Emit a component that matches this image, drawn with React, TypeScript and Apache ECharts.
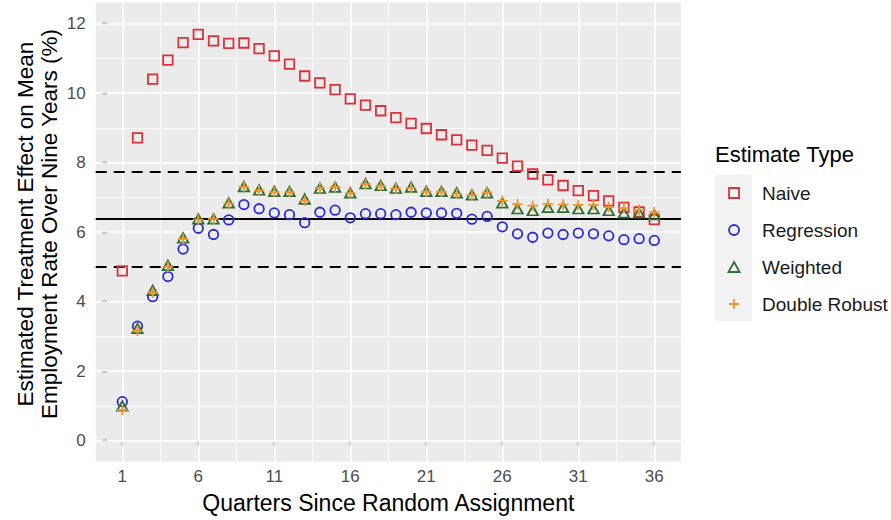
import React, { useEffect, useRef } from "react";
import * as echarts from "echarts";

const quarters = [1, 2, 3, 4, 5, 6, 7, 8, 9, 10, 11, 12, 13, 14, 15, 16, 17, 18, 19, 20, 21, 22, 23, 24, 25, 26, 27, 28, 29, 30, 31, 32, 33, 34, 35, 36];
const naive = [4.88, 8.71, 10.4, 10.95, 11.45, 11.69, 11.5, 11.43, 11.44, 11.28, 11.07, 10.83, 10.49, 10.29, 10.1, 9.83, 9.65, 9.49, 9.29, 9.13, 8.98, 8.8, 8.65, 8.5, 8.35, 8.13, 7.9, 7.67, 7.5, 7.34, 7.19, 7.05, 6.9, 6.71, 6.58, 6.36];
const regression = [1.12, 3.29, 4.14, 4.72, 5.51, 6.11, 5.93, 6.35, 6.79, 6.67, 6.55, 6.5, 6.27, 6.57, 6.63, 6.41, 6.53, 6.53, 6.5, 6.57, 6.55, 6.55, 6.54, 6.37, 6.45, 6.15, 5.95, 5.85, 5.97, 5.93, 5.97, 5.95, 5.89, 5.78, 5.81, 5.76];
const weighted = [1.0, 3.23, 4.32, 5.04, 5.83, 6.38, 6.38, 6.84, 7.31, 7.21, 7.17, 7.17, 6.95, 7.26, 7.29, 7.13, 7.39, 7.34, 7.26, 7.29, 7.17, 7.17, 7.13, 7.07, 7.13, 6.84, 6.67, 6.62, 6.71, 6.71, 6.67, 6.67, 6.62, 6.55, 6.55, 6.5];
const doubleRobust = [0.88, 3.16, 4.26, 5.0, 5.8, 6.36, 6.38, 6.82, 7.3, 7.2, 7.15, 7.15, 6.9, 7.27, 7.3, 7.12, 7.38, 7.33, 7.25, 7.27, 7.16, 7.16, 7.1, 7.06, 7.14, 6.9, 6.8, 6.76, 6.81, 6.79, 6.78, 6.78, 6.72, 6.69, 6.64, 6.57];

const dashedRefs = [7.73, 5.01];
const solidRefs = [6.37];

const xTicks = [1, 6, 11, 16, 21, 26, 31, 36];
const xMinor = [3.5, 8.5, 13.5, 18.5, 23.5, 28.5, 33.5];
const yTicks = [0, 2, 4, 6, 8, 10, 12];
const yMinor = [1, 3, 5, 7, 9, 11];

const seriesNames = ["Naive", "Regression", "Weighted", "Double Robust"];
const seriesColors = ["#DC323C", "#2B2BD9", "#2E6E2E", "#F0962E"];

const FONT = "'Liberation Sans', Arial, Helvetica, sans-serif";

const SQUARE = "path://M0 0H10V10H0Z";
const CIRCLE = "path://M5 0A5 5 0 1 1 5 10A5 5 0 1 1 5 0Z";
const TRIANGLE = "path://M5 0L10 9L0 9Z";
const PLUS = "path://M5 0V10M0 5H10";
const symbols = [SQUARE, CIRCLE, TRIANGLE, PLUS];
const sizes = [9.5, 9.5, [10.5, 9.5], 10.5];

export default function App() {
  const ref = useRef<HTMLDivElement>(null);
  useEffect(() => {
    if (!ref.current) return;
    const chart = echarts.init(ref.current, null, { renderer: "svg" });
    const valuesList = [naive, regression, weighted, doubleRobust];
    const dataSeries = valuesList.map((vals, i) => ({
      name: seriesNames[i],
      type: "scatter",
      symbol: symbols[i],
      symbolSize: sizes[i],
      symbolKeepAspect: false,
      silent: true,
      z: 5 + i,
      itemStyle: {
        color: "none",
        borderColor: seriesColors[i],
        borderWidth: 1.8,
        opacity: 1,
      },
      data: quarters.map((q, k) => [q, vals[k]]),
    }));

    const option: any = {
      animation: false,
      backgroundColor: "#ffffff",
      textStyle: { fontFamily: FONT },
      grid: {
        left: 95.7,
        right: 210.1,
        top: 2.7,
        bottom: 58.6,
        show: true,
        backgroundColor: "#EBEBEB",
        borderWidth: 0,
        containLabel: false,
      },
      xAxis: {
        type: "value",
        min: -0.75,
        max: 37.75,
        axisLine: { show: false },
        splitLine: { show: false },
        axisTick: {
          show: true,
          customValues: xTicks,
          length: 5,
          lineStyle: { color: "#333333", width: 1.4 },
        },
        axisLabel: {
          customValues: xTicks,
          color: "#4D4D4D",
          fontSize: 17,
          margin: 7,
          fontFamily: FONT,
        },
        name: "Quarters Since Random Assignment",
        nameLocation: "middle",
        nameGap: 30,
        nameTextStyle: { color: "#000000", fontSize: 23, fontFamily: FONT },
      },
      yAxis: {
        type: "value",
        min: -0.6,
        max: 12.6,
        axisLine: { show: false },
        splitLine: { show: false },
        axisTick: {
          show: true,
          customValues: yTicks,
          length: 5,
          lineStyle: { color: "#333333", width: 1.4 },
        },
        axisLabel: {
          customValues: yTicks,
          color: "#4D4D4D",
          fontSize: 17,
          margin: 10,
          fontFamily: FONT,
        },
      },
      legend: {
        orient: "vertical",
        left: 726,
        top: 183,
        padding: 0,
        itemGap: 17,
        itemWidth: 46,
        itemHeight: 10,
        symbolKeepAspect: true,
        selectedMode: false,
        textStyle: { fontSize: 19, color: "#1A1A1A", lineHeight: 20, fontFamily: FONT },
        data: seriesNames.map((n, i) => ({
          name: n,
          icon: symbols[i],
          itemStyle: { color: "none", borderColor: seriesColors[i], borderWidth: 1.8 },
        })),
      },
      graphic: [
        {
          type: "rect",
          left: 715,
          top: 175,
          z: -1,
          shape: { width: 37, height: 146 },
          style: { fill: "#F2F2F2" },
          silent: true,
        },
        {
          type: "text",
          x: 715,
          y: 154,
          silent: true,
          style: {
            text: "Estimate Type",
            fontSize: 22,
            fontFamily: FONT,
            fill: "#000000",
            textVerticalAlign: "middle",
            textAlign: "left",
          },
        },
        {
          type: "text",
          x: 37,
          y: 224,
          rotation: Math.PI / 2,
          silent: true,
          style: {
            text: "Estimated Treatment Effect on Mean\nEmployment Rate Over Nine Years (%)",
            fontSize: 22.5,
            lineHeight: 24,
            fontFamily: FONT,
            fill: "#000000",
            textAlign: "center",
            textVerticalAlign: "middle",
          },
        },
      ],
      series: [
        {
          type: "scatter",
          name: "grid",
          data: [],
          silent: true,
          z: 1,
          markLine: {
            silent: true,
            symbol: ["none", "none"],
            label: { show: false },
            animation: false,
            data: [
              ...xMinor.map((v) => ({ xAxis: v, lineStyle: { color: "#FFFFFF", width: 0.8, type: "solid" } })),
              ...yMinor.map((v) => ({ yAxis: v, lineStyle: { color: "#FFFFFF", width: 0.8, type: "solid" } })),
              ...xTicks.map((v) => ({ xAxis: v, lineStyle: { color: "#FFFFFF", width: 1.6, type: "solid" } })),
              ...yTicks.map((v) => ({ yAxis: v, lineStyle: { color: "#FFFFFF", width: 1.6, type: "solid" } })),
            ],
          },
        },
        {
          type: "scatter",
          name: "refs",
          data: [],
          silent: true,
          z: 2,
          markLine: {
            silent: true,
            symbol: ["none", "none"],
            label: { show: false },
            animation: false,
            data: [
              ...dashedRefs.map((v) => ({ yAxis: v, lineStyle: { color: "#000000", width: 2, type: [11, 7] } })),
              ...solidRefs.map((v) => ({ yAxis: v, lineStyle: { color: "#000000", width: 2, type: "solid" } })),
            ],
          },
        },
        ...dataSeries,
      ],
    };
    chart.setOption(option);
    return () => chart.dispose();
  }, []);
  return <div ref={ref} style={{ width: 891, height: 520, position: "absolute", left: 0, top: 0 }} />;
}
